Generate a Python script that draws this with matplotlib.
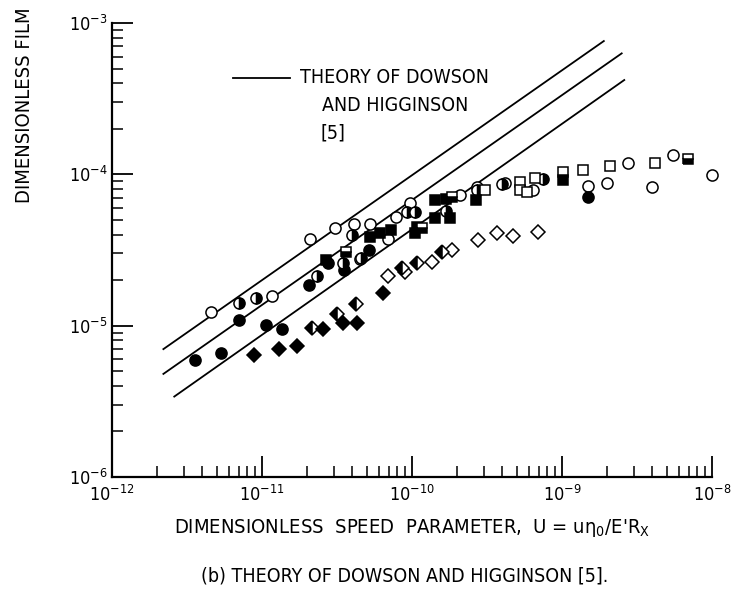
import matplotlib.pyplot as plt

plt.rcParams['font.family'] = ['DejaVu Sans']
plt.rcParams['font.stretch'] = 'condensed'
plt.rcParams['mathtext.default'] = 'regular'

# theory of Dowson and Higginson, three film thickness lines (end points)
theory_u = [[2.2e-12, 1.9e-9], [2.2e-12, 2.5e-9], [2.6e-12, 2.6e-9]]
theory_h = [[7.0e-6, 7.6e-4], [4.8e-6, 6.3e-4], [3.4e-6, 4.2e-4]]

open_circ_u = [4.6e-12, 1.17e-11, 2.1e-11, 3.07e-11, 4.1e-11, 5.25e-11, 4.5e-11, 6.9e-11,
               7.8e-11, 9.7e-11, 2.1e-10, 2.7e-10, 4.2e-10, 6.4e-10, 1.49e-9, 2.0e-9,
               2.75e-9, 4.0e-9, 5.5e-9, 1.0e-8]
open_circ_h = [1.23e-5, 1.57e-5, 3.74e-5, 4.42e-5, 4.69e-5, 4.69e-5, 2.76e-5, 3.74e-5,
               5.22e-5, 6.46e-5, 7.3e-5, 8.24e-5, 8.76e-5, 7.87e-5, 8.4e-5, 8.76e-5,
               1.19e-4, 8.24e-5, 1.34e-4, 9.9e-5]

fill_circ_u = [3.6e-12, 5.3e-12, 7.0e-12, 1.06e-11, 1.36e-11, 2.06e-11, 2.75e-11, 3.5e-11,
               5.2e-11, 1.49e-9]
fill_circ_h = [5.9e-6, 6.6e-6, 1.09e-5, 1.01e-5, 9.5e-6, 1.87e-5, 2.59e-5, 2.33e-5,
               3.16e-5, 7.1e-5]

half_circ_u = [7.0e-12, 9.1e-12, 2.33e-11, 3.47e-11, 4.0e-11, 4.6e-11, 9.3e-11, 1.05e-10,
               1.69e-10, 2.7e-10, 4.0e-10, 7.5e-10]
half_circ_h = [1.41e-5, 1.52e-5, 2.13e-5, 2.59e-5, 3.97e-5, 2.8e-5, 5.63e-5, 5.63e-5,
               5.72e-5, 7.87e-5, 8.63e-5, 9.3e-5]

open_sq_u = [3.07e-10, 5.25e-10, 5.25e-10, 5.8e-10, 6.6e-10, 1.02e-9, 1.38e-9, 2.1e-9, 4.2e-9]
open_sq_h = [7.87e-5, 8.89e-5, 7.87e-5, 7.64e-5, 9.45e-5, 1.03e-4, 1.07e-4, 1.13e-4, 1.19e-4]

fill_sq_u = [2.67e-11, 5.25e-11, 6.1e-11, 7.2e-11, 1.08e-10, 1.05e-10, 1.42e-10, 1.69e-10,
             1.42e-10, 1.79e-10, 2.67e-10, 1.02e-9]
fill_sq_h = [2.71e-5, 3.85e-5, 4.09e-5, 4.28e-5, 4.48e-5, 4.09e-5, 6.76e-5, 6.87e-5,
             5.14e-5, 5.14e-5, 6.76e-5, 9.2e-5]

half_sq_u = [3.63e-11, 1.17e-10, 1.85e-10, 6.9e-9]
half_sq_h = [3.07e-5, 4.42e-5, 7.08e-5, 1.26e-4]

open_dia_u = [6.9e-11, 9.0e-11, 1.36e-10, 1.85e-10, 2.75e-10, 3.7e-10, 4.7e-10, 6.9e-10]
open_dia_h = [2.13e-5, 2.26e-5, 2.63e-5, 3.16e-5, 3.68e-5, 4.09e-5, 3.91e-5, 4.15e-5]

half_dia_u = [2.15e-11, 3.16e-11, 4.2e-11, 8.6e-11, 1.08e-10, 1.58e-10]
half_dia_h = [9.6e-6, 1.19e-5, 1.39e-5, 2.4e-5, 2.59e-5, 3.07e-5]

fill_dia_u = [8.8e-12, 1.3e-11, 1.7e-11, 2.55e-11, 3.47e-11, 4.3e-11, 6.4e-11]
fill_dia_h = [6.4e-6, 7.0e-6, 7.3e-6, 9.5e-6, 1.04e-5, 1.04e-5, 1.64e-5]

x_major = [1e-12, 1e-11, 1e-10, 1e-9, 1e-8]
y_major = [1e-6, 1e-5, 1e-4, 1e-3]

fig = plt.figure(figsize=(7.36, 5.93), dpi=100)
ax = fig.add_axes([0.1522, 0.1956, 0.8152, 0.7656])
ax.set_xscale('log')
ax.set_yscale('log')
ax.set_xticks(x_major)
ax.set_yticks(y_major)
ax.set_xlim(1e-12, 1e-8)
ax.set_ylim(1e-6, 1e-3)

for u, h in zip(theory_u, theory_h):
    ax.plot(u, h, color='black', lw=1.3)

pts = dict(linestyle='none', mec='black', mew=1.1, color='black', clip_on=False)
ax.plot(open_circ_u, open_circ_h, marker='o', ms=8, mfc='white', **pts)
ax.plot(fill_circ_u, fill_circ_h, marker='o', ms=8, mfc='black', **pts)
ax.plot(half_circ_u, half_circ_h, marker='o', ms=8, fillstyle='right',
        markerfacecoloralt='white', **pts)
ax.plot(open_sq_u, open_sq_h, marker='s', ms=7, mfc='white', **pts)
ax.plot(fill_sq_u, fill_sq_h, marker='s', ms=7, mfc='black', **pts)
ax.plot(half_sq_u, half_sq_h, marker='s', ms=7, fillstyle='bottom',
        markerfacecoloralt='white', **pts)
ax.plot(open_dia_u, open_dia_h, marker='D', ms=7, mfc='white', **pts)
ax.plot(half_dia_u, half_dia_h, marker='D', ms=7, fillstyle='left',
        markerfacecoloralt='white', **pts)
ax.plot(fill_dia_u, fill_dia_h, marker='D', ms=7, mfc='black', **pts)

# key for the theory lines
ax.plot([0.2017, 0.2967], [0.879, 0.879], color='black', lw=1.3, transform=ax.transAxes)
ax.text(0.3133, 0.879, 'THEORY OF DOWSON', transform=ax.transAxes, va='center', fontsize=14)
ax.text(0.35, 0.819, 'AND HIGGINSON', transform=ax.transAxes, va='center', fontsize=14)
ax.text(0.3467, 0.758, '[5]', transform=ax.transAxes, va='center', fontsize=14)

for side in ['top', 'right']:
    ax.spines[side].set_visible(False)
for side in ['left', 'bottom']:
    ax.spines[side].set_linewidth(1.6)
ax.tick_params(which='major', direction='in', length=15, width=1.3, labelsize=13)
ax.tick_params(axis='x', which='major', pad=6)
ax.tick_params(axis='y', which='major', pad=3)
ax.tick_params(which='minor', direction='in', length=8, width=1.1)

ax.set_xlabel("DIMENSIONLESS  SPEED  PARAMETER,  U = u$\\eta_0$/E'R$_X$", fontsize=14.5, labelpad=8)
fig.text(25 / 736, 1 - 203 / 593, 'DIMENSIONLESS FILM', rotation=90,
         ha='center', va='bottom', fontsize=14.5)
fig.text(0.55, 0.02, '(b) THEORY OF DOWSON AND HIGGINSON [5].', ha='center', fontsize=14)

fig.savefig('out.png', dpi=100)
